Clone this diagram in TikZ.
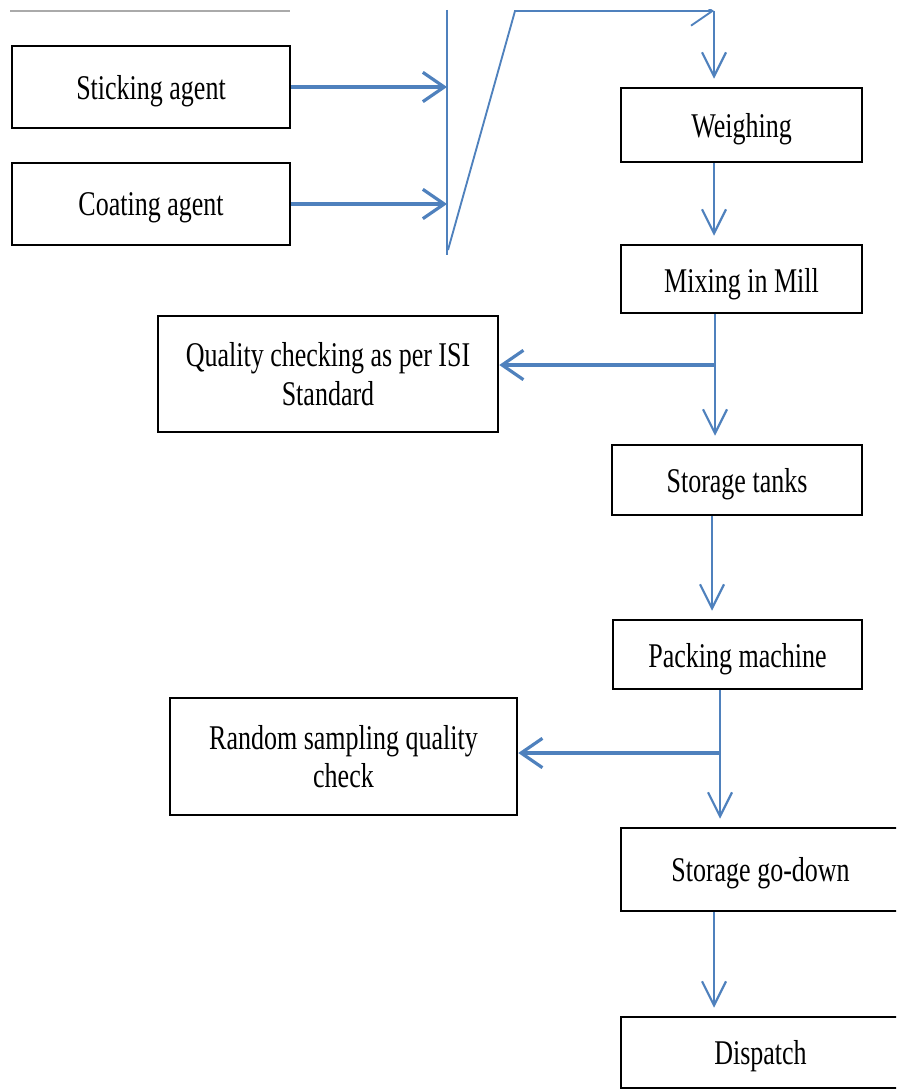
\documentclass[tikz,border=0pt]{standalone}
\usepackage{fontspec}
\setmainfont{Liberation Serif}[FakeStretch=0.75]
\usetikzlibrary{arrows.meta}

\definecolor{flowblue}{RGB}{79,129,189}

\tikzset{every picture/.style={line width=0.75pt}}
\tikzset{
	procbox/.style={draw=black, line width=1.9pt, fill=white, align=center, inner sep=0pt, text depth=0pt, font=\fontsize{26}{29}\selectfont},
	flow/.style={draw=flowblue, line width=1.6pt, -{Straight Barb[length=18pt,width=18pt]}, shorten >=6pt},
	side/.style={draw=flowblue, line width=2.4pt, -{Straight Barb[length=16pt,width=22pt]}},
	feed/.style={draw=flowblue, line width=1.4pt}
}

\begin{document}
\begin{tikzpicture}[x=0.75pt,y=0.75pt,yscale=-1,xscale=1]
		%picture is 896 x 1091, top strip cut off as in the scan
		\useasboundingbox (0,0) rectangle (896,1091);
		\clip (0,10) rectangle (896,1091);

		% spine points
		\coordinate (barT) at (447,10);
		\coordinate (barB) at (447,255);
		\coordinate (diagB) at (448,250);
		\coordinate (diagT) at (515,11);
		\coordinate (topR) at (714,11);
		\coordinate (sA) at (714,0);
		\coordinate (sB) at (715,0);
		\coordinate (sC) at (712,0);
		\coordinate (sD) at (720,0);
		\coordinate (brQ) at (715,365);
		\coordinate (brR) at (720,753);

		% boxes
		\node [procbox, minimum width=208.5pt, minimum height=61.5pt] (stick) at (151,87) {Sticking agent};
		\node [procbox, minimum width=208.5pt, minimum height=61.5pt] (coat) at (151,204) {Coating agent};
		\node [procbox, minimum width=180.75pt, minimum height=55.5pt] (weigh) at (741.5,125) {Weighing};
		\node [procbox, minimum width=180.75pt, minimum height=51pt] (mix) at (741.5,279) {\raisebox{-2pt}{Mixing in Mill}};
		\node [procbox, minimum width=255pt, minimum height=87pt] (qual) at (328,374) {Quality checking as per ISI\\Standard};
		\node [procbox, minimum width=187.5pt, minimum height=52.5pt] (tank) at (737,480) {Storage tanks};
		\node [procbox, minimum width=186.75pt, minimum height=51.75pt] (pack) at (737.5,654.5) {\raisebox{-1pt}{Packing machine}};
		\node [procbox, minimum width=260.25pt, minimum height=87.75pt] (rand) at (343.5,756.5) {Random sampling quality\\check};
		\node [procbox, minimum width=209.25pt, minimum height=62.25pt] (godown) at (760.5,869.5) {Storage go-down};
		\node [procbox, minimum width=209.25pt, minimum height=53.25pt] (disp) at (760.5,1052.5) {Dispatch};

		% left over rule from the page above
		\draw [color={rgb, 255:red, 170; green, 170; blue, 170 }, line width=0.9pt] (10,11) -- (290,11);

		% inputs into the collector
		\draw [side] (stick.east) -- (stick.east -| barT);
		\draw [side] (coat.east) -- (coat.east -| barT);
		\draw [feed] (barT) -- (barB);
		\draw [side, line width=1.4pt] (diagB) -- (diagT) -- (topR);

		% main line
		\draw [flow] (topR) -- (weigh.north -| topR);
		\draw [flow] (weigh.south -| sA) -- (mix.north -| sA);
		\draw [flow] (mix.south -| sB) -- (tank.north -| sB);
		\draw [side] (brQ) -- (qual.east |- brQ);
		\draw [flow] (tank.south -| sC) -- (pack.north -| sC);
		\draw [flow] (pack.south -| sD) -- (godown.north -| sD);
		\draw [side] (brR) -- (rand.east |- brR);
		\draw [flow] (godown.south -| sA) -- (disp.north -| sA);

\end{tikzpicture}
\end{document}
